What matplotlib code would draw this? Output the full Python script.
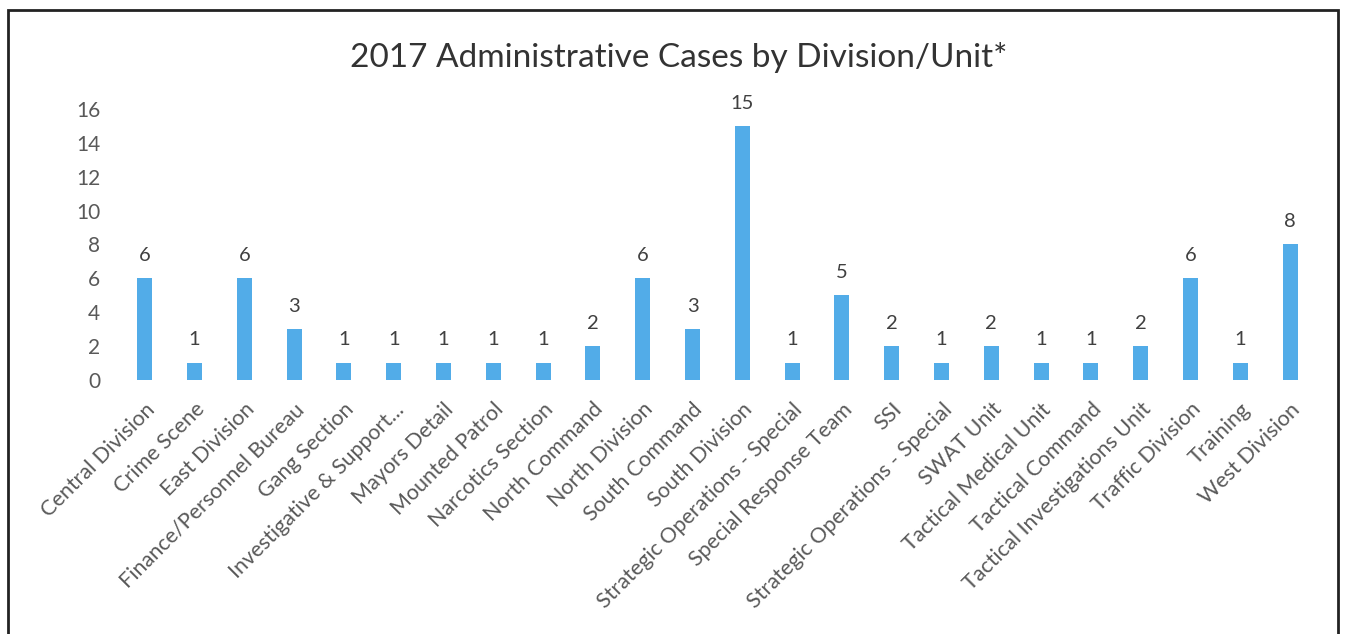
import matplotlib
matplotlib.use('Agg')
import matplotlib.pyplot as plt
from matplotlib.patches import Rectangle
import numpy as np

units = ['Central Division', 'Crime Scene', 'East Division', 'Finance/Personnel Bureau',
         'Gang Section', 'Investigative & Support...', 'Mayors Detail', 'Mounted Patrol',
         'Narcotics Section', 'North Command', 'North Division', 'South Command',
         'South Division', 'Strategic Operations - Special', 'Special Response Team', 'SSI',
         'Strategic Operations - Special', 'SWAT Unit', 'Tactical Medical Unit',
         'Tactical Command', 'Tactical Investigations Unit', 'Traffic Division',
         'Training', 'West Division']
cases = [6, 1, 6, 3, 1, 1, 1, 1, 1, 2, 6, 3, 15, 1, 5, 2, 1, 2, 1, 1, 2, 6, 1, 8]
y_ticks = [0, 2, 4, 6, 8, 10, 12, 14, 16]

plt.rcParams['font.family'] = ['Lato', 'DejaVu Sans']
grey = '#595959'

fig = plt.figure(figsize=(13.46, 6.34), dpi=100)
ax = fig.add_axes([0.089, 0.401, 0.888, 0.427])

x = np.arange(len(units))
bars = ax.bar(x, cases, width=0.3, color='#52ace8')

for b, v in zip(bars, cases):
    ax.text(b.get_x() + b.get_width() / 2, v + 0.85, str(v), ha='center', va='bottom',
            fontsize=14.5, color='#404040', clip_on=False)

ax.set_xlim(-0.5, len(units) - 0.5)
ax.set_ylim(0, 16)
ax.set_yticks(y_ticks)
ax.set_yticklabels([str(t) for t in y_ticks], fontsize=15, color=grey)
ax.set_xticks(x)
ax.set_xticklabels(units, rotation=45, ha='right', rotation_mode='anchor',
                   fontsize=15.5, color=grey)
ax.tick_params(axis='both', length=0)
ax.tick_params(axis='y', pad=14)
ax.tick_params(axis='x', pad=14)
for s in ax.spines.values():
    s.set_visible(False)

fig.text(0.504, 0.91, '2017 Administrative Cases by Division/Unit*', ha='center',
         va='center', fontsize=24, color='#333333')

fig.patches.append(Rectangle((0.006, -0.01), 0.988, 0.995, transform=fig.transFigure,
                             fill=False, edgecolor='#222222', linewidth=2))

plt.savefig('out.png', dpi=100)
